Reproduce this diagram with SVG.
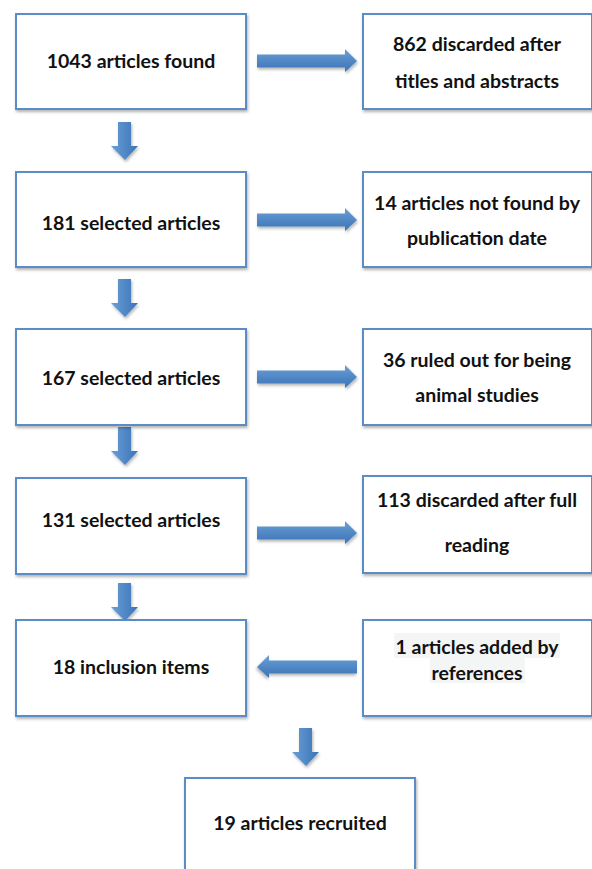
<svg xmlns="http://www.w3.org/2000/svg" width="592" height="869" viewBox="0 0 592 869">
<defs>
<filter id="sh" x="-10%" y="-10%" width="130%" height="130%">
<feDropShadow dx="1" dy="2" stdDeviation="1.5" flood-color="#000" flood-opacity="0.3"/>
</filter>
<linearGradient id="gv" x1="0" y1="0" x2="1" y2="0">
<stop offset="0" stop-color="#6a9fd6"/>
<stop offset="1" stop-color="#3a73b7"/>
</linearGradient>
<linearGradient id="gh" x1="0" y1="0" x2="0" y2="1">
<stop offset="0" stop-color="#6a9fd6"/>
<stop offset="1" stop-color="#3a73b7"/>
</linearGradient>
<path id="down" d="M-7,0 H6 V24 H13 L0,38 L-14,24 H-7 Z"/>
<path id="right" d="M0,-6.5 H88 V-12 L100,0 L88,11 V6.5 H0 Z"/>
</defs>
<style>
.box{fill:#fff;stroke:#5a8dc8;stroke-width:2;filter:url(#sh)}
.t{font-family:Lato,"Open Sans","Liberation Sans",sans-serif;font-weight:bold;font-size:19.5px;fill:#111;text-anchor:middle}
.av{fill:url(#gv);filter:url(#sh)}
.ah{fill:url(#gh);filter:url(#sh)}
.hl{fill:#f4f6f6}
</style>
<rect width="592" height="869" fill="#fff"/>
<g id="connectors">
<use href="#down" class="av" x="125" y="122"/>
<use href="#down" class="av" x="125" y="279"/>
<use href="#down" class="av" x="125" y="427"/>
<use href="#down" class="av" x="125" y="583"/>
<use href="#down" class="av" x="306" y="728"/>
<use href="#right" class="ah" x="257" y="61"/>
<use href="#right" class="ah" x="257" y="220"/>
<use href="#right" class="ah" x="257" y="377"/>
<use href="#right" class="ah" x="257" y="533"/>
<use href="#right" class="ah" transform="translate(357,667) scale(-1,1)"/>
</g>
<g id="n1"><rect class="box" x="16" y="14" width="230" height="95"/><text class="t" x="131" y="68">1043 articles found</text></g>
<g id="n2"><rect class="box" x="363" y="14" width="229" height="95"/><text class="t" x="477" y="51">862 discarded after</text><text class="t" x="477" y="88">titles and abstracts</text></g>
<g id="n3"><rect class="box" x="16" y="172" width="230" height="95"/><text class="t" x="131" y="230">181 selected articles</text></g>
<g id="n4"><rect class="box" x="363" y="172" width="229" height="95"/><text class="t" x="477" y="210">14 articles not found by</text><text class="t" x="477" y="245">publication date</text></g>
<g id="n5"><rect class="box" x="16" y="329" width="230" height="96"/><text class="t" x="131" y="385">167 selected articles</text></g>
<g id="n6"><rect class="box" x="363" y="329" width="229" height="96"/><text class="t" x="477" y="367">36 ruled out for being</text><text class="t" x="477" y="402">animal studies</text></g>
<g id="n7"><rect class="box" x="16" y="478" width="230" height="96"/><text class="t" x="131" y="527">131 selected articles</text></g>
<g id="n8"><rect class="box" x="363" y="476" width="229" height="97"/><text class="t" x="477" y="507">113 discarded after full</text><text class="t" x="477" y="552">reading</text></g>
<g id="n9"><rect class="box" x="16" y="620" width="230" height="96"/><text class="t" x="131" y="674">18 inclusion items</text></g>
<g id="n10"><rect class="box" x="363" y="620" width="229" height="96"/><rect class="hl" x="394" y="633" width="166" height="25"/><rect class="hl" x="430" y="658" width="95" height="25"/><text class="t" x="477" y="654">1 articles added by</text><text class="t" x="477" y="680">references</text></g>
<g id="n11"><rect class="box" x="185" y="778" width="230" height="110"/><text class="t" x="300" y="830">19 articles recruited</text></g>
</svg>
